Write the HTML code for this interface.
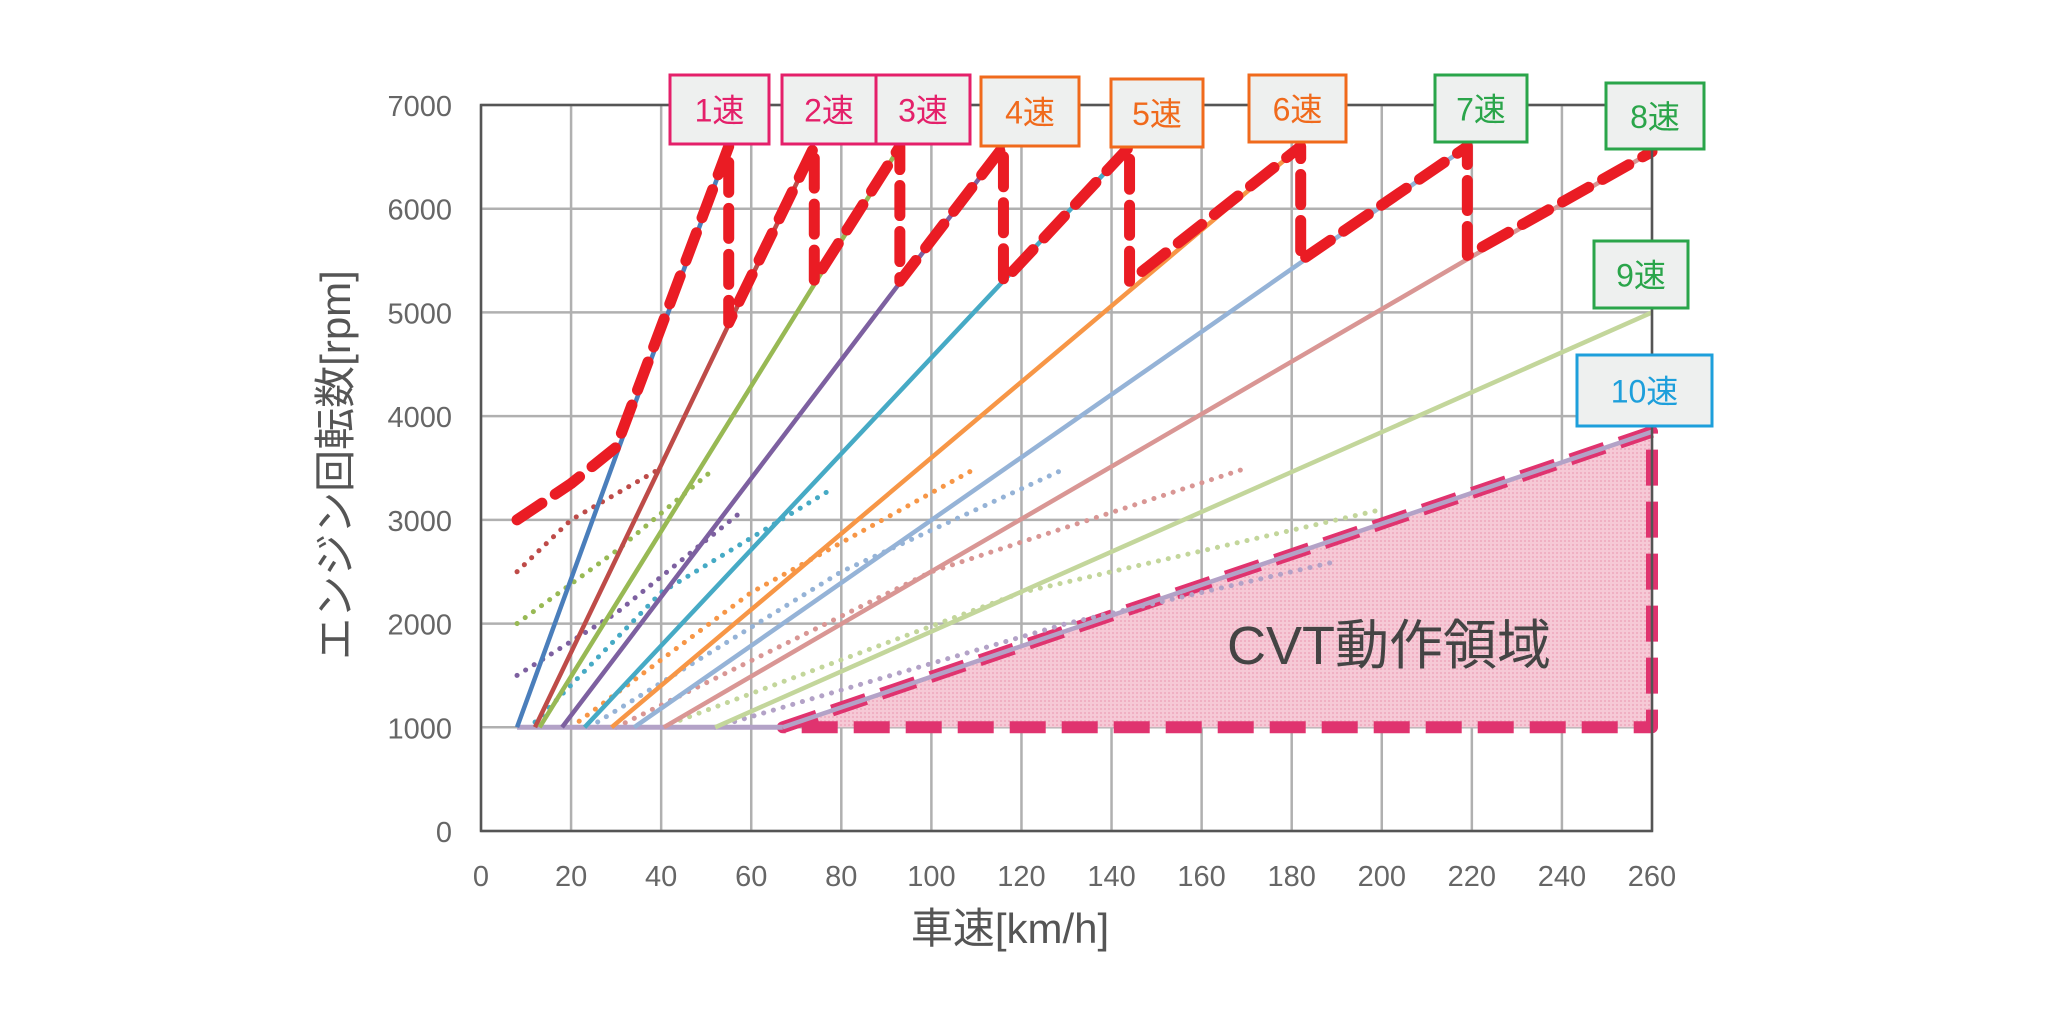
<!DOCTYPE html>
<html><head><meta charset="utf-8">
<style>
body{margin:0;background:#fff;}
svg{display:block;}
text{font-family:"Liberation Sans","Noto Sans CJK JP",sans-serif;}
</style></head>
<body>
<svg id="chart" width="2045" height="1024" viewBox="0 0 2045 1024" xmlns="http://www.w3.org/2000/svg">
<defs>
<pattern id="hatch" width="4" height="4" patternUnits="userSpaceOnUse">
<rect width="4" height="4" fill="#f6c9d6"/>
<rect width="2" height="2" fill="#f0b0c3"/>
</pattern>
</defs>
<g id="grid"></g>
<g id="cvt"></g>
<g id="dots"></g>
<g id="gears"></g>
<g id="env"></g>
<g id="axes"></g>
<g id="labels"></g>
<text transform="translate(350,465) rotate(-90)" text-anchor="middle" font-size="42" fill="#555">エンジン回転数[rpm]</text>
<text x="1010" y="943" text-anchor="middle" font-size="42" fill="#555">車速[km/h]</text>
<text x="1389" y="664" text-anchor="middle" font-size="54" fill="#444">CVT動作領域</text>
</svg>
<script>
const xTicks=[0,20,40,60,80,100,120,140,160,180,200,220,240,260];
const yTicks=[0,1000,2000,3000,4000,5000,6000,7000];
const gearStartSpeed=[8,12,13,18,23,29,34,40.6,52,67];
const gearEndSpeed=[55,74,93,116,144,182,219,260,260,260];
const gearEndRpm=[6600,6600,6600,6600,6600,6600,6600,6550,5000,3850];
const gearColors=["#4a7ebb","#be4b48","#98b954","#7d60a0","#46aac5","#f79646","#95b3d7","#d99694","#c3d69b","#b3a2c7"];
const idleSpeed=[8,67];
const envSpeed=[8,20,30,55,55,74,74,93,93,116,116,144,144,182,182,219,219,260];
const envRpm=[3000,3350,3700,6600,4900,6600,5300,6600,5300,6600,5300,6600,5300,6600,5500,6600,5550,6550];
const dotSeries=[
 {c:"#be4b48",v:[8,20,40],r:[2500,3000,3500]},
 {c:"#98b954",v:[8,30,52],r:[2000,2700,3500]},
 {c:"#7d60a0",v:[8,30,57],r:[1500,2100,3050]},
 {c:"#46aac5",v:[12,40,78],r:[1050,2300,3300]},
 {c:"#f79646",v:[20,60,110],r:[1000,2300,3500]},
 {c:"#95b3d7",v:[24,80,130],r:[1000,2500,3500]},
 {c:"#d99694",v:[30,100,170],r:[1000,2500,3500]},
 {c:"#c3d69b",v:[40,120,200],r:[1000,2300,3100]},
 {c:"#b3a2c7",v:[52,130,190],r:[1000,2000,2600]}
];
const cvtSpeed=[67,260,260];
const cvtRpm=[1000,3850,1000];
const labelText=["1速","2速","3速","4速","5速","6速","7速","8速","9速","10速"];
const labelColors=["#e4206a","#e4206a","#e4206a","#f06a1c","#f06a1c","#f06a1c","#2aa54a","#2aa54a","#2aa54a","#1d9fdb"];
const labelBoxes=[[670,75,99,69],[782,75,94,69],[876,75,94,69],[981,77,98,69],[1111,79,92,68],[1249,75,97,67],[1435,75,92,67],[1606,83,98,66],[1594,241,94,67],[1577,355,135,71]];

const X0=481,X1=1652,Y0=831,Y1=105;
const sx=v=>X0+(X1-X0)*v/260;
const sy=r=>Y0-(Y0-Y1)*r/7000;
const NS="http://www.w3.org/2000/svg";
function mk(tag,parent,attrs){const e=document.createElementNS(NS,tag);for(const k in attrs)e.setAttribute(k,attrs[k]);document.getElementById(parent).appendChild(e);return e;}
function pts(vs,rs){return vs.map((v,i)=>sx(v)+","+sy(rs[i])).join(" ");}

xTicks.forEach(v=>{
 const l=mk("line","grid",{x1:sx(v),x2:sx(v),y1:Y1,y2:Y0,stroke:"#b0b0b0","stroke-width":2.5});
 
 
 const t=mk("text","axes",{x:sx(v),y:886,"text-anchor":"middle","font-size":29,fill:"#666"});
 
 
 t.textContent=v;
});
yTicks.forEach(r=>{
 const l=mk("line","grid",{x1:X0,x2:X1,y1:sy(r),y2:sy(r),stroke:"#b0b0b0","stroke-width":2.5});
 
 
 const t=mk("text","axes",{x:452,y:sy(r)+11,"text-anchor":"end","font-size":29,fill:"#666"});
 
 
 t.textContent=r;
});
const fr=mk("rect","axes",{x:X0,y:Y1,width:X1-X0,height:Y0-Y1,fill:"none",stroke:"#555","stroke-width":2.5});



const poly=mk("polygon","cvt",{points:pts(cvtSpeed,cvtRpm),fill:"url(#hatch)",stroke:"#e0336f","stroke-width":12,"stroke-dasharray":"36,16","stroke-linejoin":"round"});



dotSeries.forEach(d=>{
 const p=mk("polyline","dots",{points:pts(d.v,d.r),fill:"none",stroke:d.c,"stroke-width":5,"stroke-dasharray":"0.1,10","stroke-linecap":"round"});
 
 
});

const idle=mk("polyline","gears",{points:pts(idleSpeed,[1000,1000]),fill:"none",stroke:"#b3a2c7","stroke-width":5});


gearStartSpeed.forEach((s,i)=>{
 const l=mk("line","gears",{x1:sx(s),y1:sy(1000),x2:sx(gearEndSpeed[i]),y2:sy(gearEndRpm[i]),stroke:gearColors[i],"stroke-width":4.5});
 
 
});

const env=mk("polyline","env",{points:pts(envSpeed,envRpm),fill:"none",stroke:"#ea1c24","stroke-width":11,"stroke-dasharray":"30,16","stroke-linejoin":"round","stroke-linecap":"round"});



labelText.forEach((t,i)=>{
 const b=labelBoxes[i];
 const r=mk("rect","labels",{x:b[0],y:b[1],width:b[2],height:b[3],fill:"#eef0ef",stroke:labelColors[i],"stroke-width":3});
 
 
 const tx=mk("text","labels",{x:b[0]+b[2]/2,y:b[1]+b[3]/2+12,"text-anchor":"middle","font-size":32,fill:labelColors[i]});
 
 
 tx.textContent=t;
});
</script>
</body></html>
